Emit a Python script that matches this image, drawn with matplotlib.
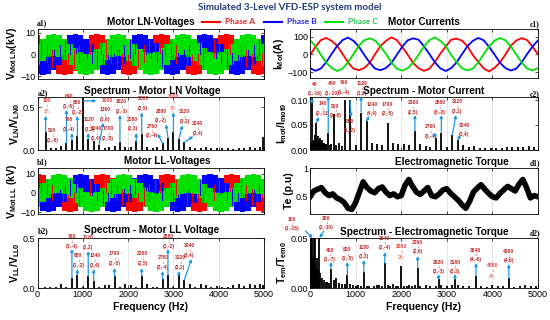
import numpy as np
import matplotlib
matplotlib.use('Agg')
import matplotlib.pyplot as plt
from matplotlib.lines import Line2D

plt.rcParams['font.family'] = ['Liberation Sans', 'DejaVu Sans']
plt.rcParams['mathtext.fontset'] = 'custom'
plt.rcParams['mathtext.rm'] = 'Liberation Sans'
plt.rcParams['mathtext.bf'] = 'Liberation Sans:bold'
plt.rcParams['mathtext.it'] = 'Liberation Sans:italic'

RED, BLUE, GREEN = '#ff0000', '#0000ff', '#00e000'
LBL_RED, FS_RED, ARR_BLUE = '#c02828', '#f03a3a', '#1e96e6'

# ---------------- time signals (43 samples across the window) ----------------
ln_a = [3.9, 2.3, 0.2, -2.1, -3.8, -4.6, -3.9, -2.4, 0.1, 2.2, 3.8, 4.6,
        3.9, 2.2, -0.1, -2.3, -3.9, -4.5, -3.8, -2.2, 0.2, 2.3, 4.0, 4.5,
        3.8, 2.1, 0.0, -2.2, -4.0, -4.6, -3.9, -2.3, -0.1, 2.4, 3.9, 4.4,
        3.9, 2.3, 0.1, -2.2, -3.9, -4.5, -3.8]
ln_b = [-3.9, -4.5, -3.8, -2.2, 0.1, 2.3, 3.9, 4.6, 3.8, 2.2, -0.1, -2.3,
        -3.9, -4.6, -3.9, -2.2, 0.0, 2.2, 3.8, 4.5, 3.9, 2.3, 0.1, -2.2,
        -4.0, -4.5, -3.8, -2.3, -0.1, 2.2, 3.9, 4.6, 3.9, 2.1, 0.0, -2.3,
        -3.8, -4.5, -3.9, -2.2, 0.1, 2.3, 3.9]
ln_c = [0.0, 2.2, 3.8, 4.5, 3.9, 2.3, 0.0, -2.2, -3.9, -4.6, -3.8, -2.3,
        0.1, 2.3, 3.9, 4.5, 3.8, 2.2, -0.1, -2.3, -3.9, -4.5, -3.9, -2.2,
        0.0, 2.3, 3.8, 4.6, 3.9, 2.2, 0.1, -2.2, -3.8, -4.5, -3.9, -2.3,
        0.0, 2.2, 3.9, 4.5, 3.8, 2.2, -0.1]

ll_a = [5.0, 4.3, 2.5, 0.1, -2.4, -4.3, -5.1, -4.2, -2.6, 0.0, 2.4, 4.4,
        5.0, 4.2, 2.6, -0.1, -2.5, -4.4, -4.9, -4.3, -2.4, 0.1, 2.5, 4.3,
        5.1, 4.3, 2.4, 0.0, -2.6, -4.3, -5.0, -4.2, -2.5, -0.1, 2.6, 4.3,
        4.9, 4.4, 2.5, 0.1, -2.4, -4.3, -5.0]
ll_b = [-2.5, -4.3, -5.0, -4.4, -2.5, 0.1, 2.4, 4.3, 5.1, 4.2, 2.5, -0.1,
        -2.6, -4.2, -4.9, -4.3, -2.4, 0.0, 2.6, 4.4, 5.0, 4.3, 2.4, 0.1,
        -2.5, -4.4, -5.1, -4.2, -2.5, -0.1, 2.5, 4.2, 4.9, 4.4, 2.6, 0.0,
        -2.4, -4.3, -5.0, -4.3, -2.6, 0.1, 2.5]
ll_c = [-2.5, 0.0, 2.5, 4.3, 4.9, 4.2, 2.6, -0.1, -2.5, -4.3, -5.0, -4.3,
        -2.5, 0.1, 2.4, 4.4, 5.0, 4.3, 2.5, 0.0, -2.6, -4.3, -5.1, -4.2,
        -2.5, 0.1, 2.5, 4.3, 5.0, 4.4, 2.4, -0.1, -2.4, -4.4, -4.9, -4.3,
        -2.5, 0.0, 2.6, 4.2, 5.0, 4.3, 2.4]

cur_a = [-5, 42, 80, 92, 75, 48, 3, -44, -80, -88, -76, -47,
         2, 47, 76, 95, 80, 41, -2, -48, -77, -92, -80, -43,
         4, 44, 82, 88, 77, 46, -4, -42, -79, -95, -75, -45,
         -1, 48, 78, 91, 80, 43, 0]
cur_b = [-76, -92, -79, -43, 3, 47, 80, 94, 76, 44, -3, -46,
         -80, -88, -76, -48, -2, 43, 79, 90, 82, 45, 2, -44,
         -78, -93, -77, -45, 1, 46, 76, 92, 79, 42, -1, -47,
         -77, -90, -80, -44, 2, 45, 78]
cur_c = [80, 46, -2, -47, -76, -93, -79, -44, 1, 48, 79, 90,
         77, 43, 3, -45, -80, -91, -77, -46, -2, 44, 80, 95,
         76, 47, -3, -43, -78, -89, -80, -45, 2, 45, 77, 92,
         79, 44, 0, -46, -79, -90, -77]

torque = [0.50, 0.60, 0.63, 0.66, 0.57, 0.52, 0.55, 0.48, 0.45, 0.40, 0.30,
          0.28, 0.40, 0.58, 0.76, 0.66, 0.60, 0.57, 0.64, 0.67, 0.58, 0.52,
          0.55, 0.50, 0.52, 0.70, 0.80, 0.68, 0.58, 0.54, 0.60, 0.66, 0.52,
          0.50, 0.55, 0.62, 0.64, 0.56, 0.50, 0.44, 0.36, 0.30, 0.42, 0.58,
          0.65, 0.71, 0.63, 0.56, 0.50, 0.48, 0.56, 0.62, 0.68, 0.64, 0.60,
          0.72, 0.80, 0.66, 0.48, 0.52, 0.50]

# ---------------- spectra ----------------
a2_freq = [180, 300, 400, 520, 640, 760, 880, 1000, 1120, 1240, 1360, 1480,
           1580, 1700, 1820, 1940, 2060, 2180, 2300, 2420, 2540, 2640, 2760,
           2880, 3000, 3120, 3240, 3360, 3480, 3600, 3720, 3840, 3960, 4080,
           4200, 4320, 4440, 4560, 4680, 4800, 4920, 4985]
a2_val = [0.21, 0.02, 0.02, 0.05, 0.08, 0.12, 0.16, 0.62, 0.13, 0.10, 0.06,
          0.02, 0.03, 0.05, 0.09, 0.03, 0.03, 0.10, 0.19, 0.03, 0.02, 0.03,
          0.08, 0.14, 0.21, 0.13, 0.09, 0.03, 0.02, 0.02, 0.03, 0.02, 0.02,
          0.02, 0.02, 0.01, 0.02, 0.02, 0.03, 0.02, 0.03, 0.15]

c2_freq = [20, 40, 60, 80, 100, 120, 140, 160, 180, 200, 220, 240, 260, 280,
           300, 320, 340, 360, 400, 440, 460, 520, 580, 640, 700, 760, 880,
           1000, 1120, 1240, 1360, 1480, 1580, 1700, 1820, 1940, 2060, 2180,
           2300, 2420, 2540, 2640, 2760, 2880, 3000, 3120, 3240, 3360, 3480,
           3600, 3720, 3840, 3960, 4080, 4200, 4320, 4440, 4560, 4680, 4800,
           4920]
c2_val = [0.015, 0.106, 0.018, 0.02, 0.03, 0.03, 0.055, 0.022, 0.028, 0.02,
          0.025, 0.018, 0.02, 0.015, 0.015, 0.012, 0.012, 0.01, 0.035, 0.01,
          0.012, 0.072, 0.01, 0.015, 0.008, 0.10, 0.10, 0.01, 0.075, 0.058,
          0.015, 0.012, 0.01, 0.055, 0.015, 0.012, 0.012, 0.01, 0.038, 0.012,
          0.008, 0.006, 0.025, 0.035, 0.006, 0.03, 0.02, 0.01, 0.006, 0.008,
          0.005, 0.005, 0.004, 0.004, 0.005, 0.006, 0.007, 0.006, 0.007,
          0.008, 0.007]

b2_freq = [160, 280, 400, 520, 640, 760, 880, 1000, 1120, 1240, 1360, 1480,
           1580, 1700, 1820, 1940, 2060, 2180, 2300, 2420, 2540, 2640, 2760,
           2880, 3000, 3120, 3240, 3360, 3480, 3600, 3720, 3840, 3960, 4080,
           4200, 4320, 4440, 4560, 4680, 4800, 4920, 4985]
b2_val = [0.01, 0.01, 0.015, 0.04, 0.01, 0.10, 0.13, 0.01, 0.12, 0.07, 0.01,
          0.03, 0.035, 0.12, 0.01, 0.04, 0.03, 0.01, 0.12, 0.04, 0.01, 0.01,
          0.09, 0.13, 0.01, 0.13, 0.08, 0.04, 0.01, 0.04, 0.03, 0.015, 0.02,
          0.01, 0.01, 0.03, 0.04, 0.02, 0.04, 0.03, 0.04, 0.03]

d2_freq = [20, 40, 60, 80, 100, 120, 140, 160, 180, 200, 220, 260, 300, 340,
           380, 420, 460, 520, 580, 640, 700, 760, 820, 880, 940, 1000, 1060,
           1120, 1180, 1240, 1300, 1400, 1460, 1520, 1580, 1640, 1700, 1760,
           1820, 1880, 1940, 2000, 2060, 2120, 2180, 2240, 2300, 2360, 2420,
           2540, 2640, 2760, 2820, 2880, 3000, 3120, 3180, 3240, 3360, 3480,
           3640, 3760, 3880, 4000, 4120, 4240, 4360, 4480, 4600, 4720, 4840,
           4960]
d2_val = [0.05, 0.05, 0.03, 0.05, 0.05, 0.025, 0.02, 0.03, 0.018, 0.05,
          0.015, 0.01, 0.008, 0.006, 0.006, 0.005, 0.019, 0.008, 0.01, 0.005,
          0.004, 0.004, 0.013, 0.004, 0.003, 0.002, 0.003, 0.002, 0.016,
          0.002, 0.002, 0.002, 0.003, 0.003, 0.002, 0.025, 0.003, 0.002,
          0.004, 0.002, 0.002, 0.022, 0.002, 0.002, 0.003, 0.002, 0.003,
          0.02, 0.002, 0.003, 0.002, 0.002, 0.009, 0.003, 0.002, 0.003,
          0.009, 0.003, 0.002, 0.002, 0.012, 0.002, 0.001, 0.003, 0.002,
          0.002, 0.01, 0.001, 0.002, 0.003, 0.002, 0.002]

# annotation specs: label, text x, text y, arrow from (x, y), arrow to (x, y)
a2_notes = [
    ('180\n↓\n$3\\mathit{f_s}$', 200, 0.50, (180, 0.21), (180, 0.40)),
    ('520\n↓\n(1,-8)', 330, 0.17, None, None),
    ('640\n↓\n(1,-6)', 700, 0.565, (640, 0.08), (640, 0.47)),
    ('760\n↓\n(1,-4)', 700, 0.30, (760, 0.12), (760, 0.20)),
    ('880\n↓\n(1,-2)', 880, 0.50, (880, 0.16), (880, 0.40)),
    ('1000', 1540, 0.575, (1020, 0.575), (1300, 0.575)),
    ('1120\n↓\n(1,2)', 1150, 0.30, (1120, 0.13), (1120, 0.20)),
    ('1240\n↓\n(1,4)', 1300, 0.195, None, None),
    ('1360\n↓\n(1,6)', 1490, 0.415, (1360, 0.06), (1450, 0.32)),
    ('1700\n↓\n(2,-5)', 1560, 0.19, None, None),
    ('1820\n↓\n(2,-3)', 1850, 0.51, (1820, 0.09), (1820, 0.41)),
    ('2180\n↓\n(2,3)', 2100, 0.305, (2180, 0.10), (2180, 0.20)),
    ('2300\n↓\n(2,5)', 2330, 0.545, (2300, 0.19), (2300, 0.44)),
    ('2760\n↓\n(3,-4)', 2530, 0.22, (2760, 0.08), (2650, 0.19)),
    ('2880\n↓\n(3,-2)', 2730, 0.40, (2880, 0.14), (2840, 0.30)),
    ('3000\n↓\n$3\\mathit{f_s}$', 3000, 0.545, (3000, 0.21), (3000, 0.44)),
    ('3120\n↓\n(3,2)', 3250, 0.39, (3120, 0.13), (3200, 0.29)),
    ('3240\n↓\n(3,4)', 3540, 0.25, (3240, 0.09), (3440, 0.16)),
]
c2_notes = [
    ('40\n↓\n(1,-16)', 110, 0.122, (40, 0.094), (40, 0.104)),
    ('140\n↓\n(2,-11)', 280, 0.083, (140, 0.055), (200, 0.066)),
    ('400\n↓\n(1,-10)', 490, 0.123, (400, 0.035), (400, 0.108)),
    ('520\n↓\n(1,-8)', 560, 0.078, None, None),
    ('760\n↓\n(1,-4)', 750, 0.125, None, None),
    ('880\n↓\n(1,-2)', 880, 0.048, (880, 0.098), (900, 0.066)),
    ('1120\n↓\n(1,2)', 1140, 0.123, (1120, 0.076), (1120, 0.107)),
    ('1240\n↓\n(4,4)', 1370, 0.082, (1240, 0.058), (1300, 0.068)),
    ('1700\n↓\n(2,-5)', 1700, 0.082, None, None),
    ('2300\n↓\n(2,5)', 2260, 0.085, (2300, 0.038), (2300, 0.07)),
    ('2760\n↓\n(3,-4)', 2640, 0.037, (2760, 0.025), (2720, 0.035)),
    ('2880\n↓\n(3,-2)', 2850, 0.085, (2880, 0.035), (2880, 0.07)),
    ('3120\n↓\n(3,2)', 3230, 0.087, (3120, 0.03), (3200, 0.07)),
    ('3240\n↓\n(3,4)', 3380, 0.04, (3240, 0.02), (3300, 0.03)),
]
b2_notes = [
    ('760\n↓\n(1,-4)', 750, 0.465, (760, 0.10), (760, 0.39)),
    ('880\n↓\n(1,-2)', 900, 0.275, (880, 0.13), (880, 0.19)),
    ('1120\n↓\n(1,2)', 1120, 0.455, (1120, 0.12), (1120, 0.37)),
    ('1240\n↓\n(1,4)', 1270, 0.275, (1240, 0.07), (1240, 0.19)),
    ('1700\n↓\n(2,-5)', 1700, 0.295, (1700, 0.12), (1700, 0.20)),
    ('2300\n↓\n(2,5)', 2320, 0.295, (2300, 0.12), (2300, 0.20)),
    ('2760\n↓\n(3,-4)', 2770, 0.255, (2760, 0.09), (2760, 0.17)),
    ('2880\n↓\n(3,-2)', 2900, 0.465, (2880, 0.13), (2880, 0.39)),
    ('3120\n↓\n(3,2)', 3150, 0.255, (3120, 0.13), (3120, 0.17)),
    ('3240\n↓\n(3,4)', 3350, 0.375, (3240, 0.08), (3400, 0.29)),
]
d2_notes = [
    ('100\n↓\n(1,-15)', -400, 0.064, (-100, 0.057), (60, 0.050)),
    ('200\n↓\n(2,-30)', 360, 0.065, (300, 0.057), (210, 0.050)),
    ('460\n↓\n(1,-7)', 440, 0.033, (460, 0.019), (460, 0.026)),
    ('820\n↓\n(1,-5)', 820, 0.034, (820, 0.013), (820, 0.026)),
    ('1180\n↓\n(1,3)', 1180, 0.036, (1180, 0.016), (1180, 0.028)),
    ('1640\n↓\n(2,-4)', 1640, 0.045, (1640, 0.025), (1640, 0.036)),
    ('2000\n↓\n$2\\mathit{f_s}$', 2000, 0.035, None, None),
    ('2360\n↓\n(2,6)', 2360, 0.041, (2360, 0.020), (2360, 0.032)),
    ('2820\n↓\n(3,-3)', 2820, 0.021, (2820, 0.009), (2820, 0.014)),
    ('3180\n↓\n(3,3)', 3180, 0.021, (3180, 0.009), (3180, 0.014)),
    ('3640\n↓\n(4,-6)', 3640, 0.033, (3640, 0.012), (3640, 0.025)),
    ('4000\n↓\n$4\\mathit{f_s}$', 4000, 0.016, None, None),
    ('4360\n↓\n(4,6)', 4360, 0.032, (4360, 0.010), (4360, 0.024)),
]

W, H = 550, 320
fig = plt.figure(figsize=(5.5, 3.2), dpi=100)


def px_axes(left, top, right, bottom):
    return fig.add_axes([left / W, 1 - bottom / H, (right - left) / W, (bottom - top) / H])


def style(ax, xt):
    ax.set_xticks(xt)
    ax.tick_params(direction='in', top=True, right=True, length=2, width=0.5,
                   labelsize=6.5, pad=1.5)
    ax.grid(axis='x', color='#dddddd', lw=0.5)
    ax.set_axisbelow(True)
    for s in ax.spines.values():
        s.set_linewidth(0.6)


def ylab(ax, txt, pad=1):
    ax.set_ylabel(txt, fontsize=7.5, fontweight='bold', labelpad=pad)


def notes(ax, specs):
    for lab, tx, ty, p0, p1 in specs:
        col = FS_RED if ('f_s' in lab or lab == '1000') else LBL_RED
        ax.text(tx, ty, lab, ha='center', va='center', fontsize=3.6, color=col,
                fontweight='bold', linespacing=0.95, clip_on=False)
        if p0 is not None:
            ax.annotate('', xy=p1, xytext=p0, annotation_clip=False,
                        arrowprops=dict(arrowstyle='-|>', color=ARR_BLUE, lw=0.9,
                                        mutation_scale=4, shrinkA=0, shrinkB=0))


def pwm_bands(ax, series, hw):
    # solid band per phase, then thin red/blue strokes on top for the switching texture
    step = t[1] - t[0]
    for vals, c in series:
        v = np.array(vals)
        ax.fill_between(t, v - hw, v + hw, step='mid', color=c, lw=0)
    for k, (vals, c) in enumerate(series[:2]):
        v = np.array(vals)
        ax.bar(t + (k - 0.5) * step / 2.5, 1.7 * hw, bottom=v - 0.85 * hw,
               width=step / 6, color=c, lw=0, align='center')


t = np.linspace(0, 1, len(ln_a))
tticks = np.linspace(0, 1, 6)
fticks = [0, 1000, 2000, 3000, 4000, 5000]

# a1
ax = px_axes(37.5, 29, 264, 79)
pwm_bands(ax, ((ln_a, RED), (ln_b, BLUE), (ln_c, GREEN)), 5)
ax.set_xlim(0, 1)
ax.set_ylim(-11.3, 11.7)
ax.set_yticks([-10, 0, 10])
style(ax, tticks)
ax.set_xticklabels([])
ylab(ax, r'$\mathbf{V_{Mot\ LN}}$(kV)')

# c1
ax = px_axes(310, 29, 538, 78)
for vals, c in ((cur_a, RED), (cur_b, BLUE), (cur_c, GREEN)):
    ax.plot(t, vals, color=c, lw=1.3)
ax.set_xlim(0, 1)
ax.set_ylim(-132, 142)
ax.set_yticks([-100, 0, 100])
style(ax, tticks)
ax.set_xticklabels([])
ylab(ax, r'$\mathbf{I_{Mot}}$(A)')

# a2
ax = px_axes(37.5, 97, 264, 150)
ax.vlines(a2_freq, 0, a2_val, color='k', lw=1.3)
ax.set_xlim(0, 5000)
ax.set_ylim(0, 0.62)
ax.set_yticks([0, 0.5])
style(ax, fticks)
ax.set_xticklabels([])
ylab(ax, r'$\mathbf{V_{LN}/V_{LN0}}$')
notes(ax, a2_notes)

# c2
ax = px_axes(310, 97, 538, 150)
ax.vlines(c2_freq, 0, c2_val, color='k', lw=1.3)
ax.set_xlim(0, 5000)
ax.set_ylim(0, 0.106)
ax.set_yticks([0, 0.05, 0.1])
style(ax, fticks)
ax.set_xticklabels([])
ylab(ax, r'$\mathbf{I_{mot}/I_{mot0}}$')
notes(ax, c2_notes)

# b1
ax = px_axes(37.5, 168, 264, 214)
pwm_bands(ax, ((ll_a, RED), (ll_b, BLUE), (ll_c, GREEN)), 5)
ax.set_xlim(0, 1)
ax.set_ylim(-11, 13)
ax.set_yticks([-10, 0, 10])
style(ax, tticks)
ax.set_xticklabels([])
ylab(ax, r'$\mathbf{V_{Mot\ LL}}$ (kV)')

# d1
ax = px_axes(310, 168, 538, 214)
ax.plot(np.linspace(0, 1, len(torque)), torque, color='k', lw=4)
ax.set_xlim(0, 1)
ax.set_ylim(0.2, 1.0)
ax.set_yticks([0.5, 1])
ax.set_yticklabels(['0.5', '1'])
style(ax, tticks)
ax.set_xticklabels([])
ylab(ax, 'Te (p.u)')

# b2
ax = px_axes(37.5, 238, 264, 288)
ax.vlines(b2_freq, 0, b2_val, color='k', lw=1.3)
ax.set_xlim(0, 5000)
ax.set_ylim(0, 0.5)
ax.set_yticks([0, 0.5])
style(ax, fticks)
ylab(ax, r'$\mathbf{V_{LL}/V_{LL0}}$')
ax.set_xlabel('Frequency (Hz)', fontsize=7.5, fontweight='bold', labelpad=2)
notes(ax, b2_notes)

# d2
ax = px_axes(310, 238, 538, 288)
ax.vlines(d2_freq, 0, d2_val, color='k', lw=1.3)
ax.set_xlim(0, 5000)
ax.set_ylim(0, 0.05)
ax.set_yticks([0, 0.05])
style(ax, fticks)
ylab(ax, r'$\mathbf{T_{em}/T_{em0}}$')
ax.set_xlabel('Frequency (Hz)', fontsize=7.5, fontweight='bold', labelpad=2)
notes(ax, d2_notes)


# titles and panel tags
def ftext(x, y, s, **kw):
    fig.text(x / W, 1 - y / H, s, va='center', **kw)


ftext(290, 7, 'Simulated 3-Level VFD-ESP system model', ha='center', fontsize=7,
      fontweight='bold', color='#1f3a80', family=['Lato', 'DejaVu Sans'])
titles = [(151, 22, 'Motor LN-Voltages'), (424, 22, 'Motor Currents'),
          (152, 91, 'Spectrum - Motor LN Voltage'), (424, 91, 'Spectrum - Motor Current'),
          (167, 161, 'Motor LL-Voltages'), (452, 162, 'Electromagnetic Torque'),
          (152, 230, 'Spectrum - Motor LL Voltage'), (424, 232, 'Spectrum - Electromagnetic Torque')]
for x, y, s in titles:
    ftext(x, y, s, ha='center', fontsize=7.2, fontweight='bold')
tags = [(37, 23, 'a1)', 'left'), (540, 24, 'c1)', 'right'), (38, 93, 'a2)', 'left'),
        (540, 94, 'c2)', 'right'), (37, 162, 'b1)', 'left'), (540, 163, 'd1)', 'right'),
        (38, 231, 'b2)', 'left'), (540, 233, 'd2)', 'right')]
for x, y, s, ha in tags:
    ftext(x, y, s, ha=ha, fontsize=5.5, fontweight='bold', family='Liberation Serif')

handles = [Line2D([], [], color=RED, lw=1.5), Line2D([], [], color=BLUE, lw=1.5),
           Line2D([], [], color=GREEN, lw=1.5)]
leg = fig.legend(handles, ['Phase A', 'Phase B', 'Phase C'], loc='center',
                 bbox_to_anchor=(290 / W, 1 - 22 / H), ncol=3, frameon=False,
                 handlelength=2.2, handletextpad=0.6, columnspacing=1.0,
                 prop={'size': 6, 'weight': 'bold', 'family': ['Lato', 'DejaVu Sans']})
for txt, c in zip(leg.get_texts(), ['#e8202a', '#2a2ad8', '#22c050']):
    txt.set_color(c)

fig.savefig('out.png', dpi=100)
